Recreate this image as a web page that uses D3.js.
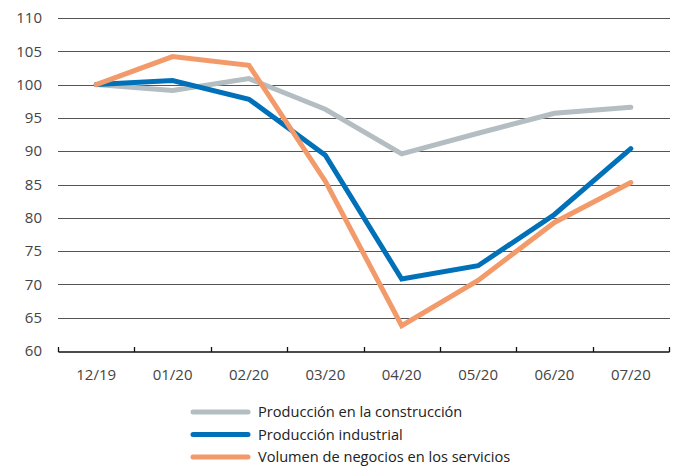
<!DOCTYPE html>
<html lang="es">
<head>
<meta charset="UTF-8">
<title>Producción e índices</title>
<script src="https://d3js.org/d3.v7.min.js"></script>
<style>
  body { margin: 0; background: #fff; }
  svg { font-family: "Open Sans", "Noto Sans", sans-serif; }
</style>
</head>
<body>
<svg id="chart"></svg>
<script>
const width = 680;
const height = 468;

const months = ["12/19", "01/20", "02/20", "03/20", "04/20", "05/20", "06/20", "07/20"];
const yTicks = [60, 65, 70, 75, 80, 85, 90, 95, 100, 105, 110];

const construccion = [100, 99.1, 100.9, 96.3, 89.6, 92.7, 95.7, 96.6];
const industrial   = [100, 100.6, 97.8, 89.4, 70.8, 72.8, 80.5, 90.4];
const servicios    = [100, 104.2, 102.9, 85.5, 63.8, 70.6, 79.3, 85.3];

const seriesNames = ["Producción en la construcción", "Producción industrial", "Volumen de negocios en los servicios"];
const seriesColors = ["#b4bdc1", "#0070b8", "#f39a6b"];
const series = [construccion, industrial, servicios];

const margin = {top: 18, right: 10, bottom: 117, left: 58};

const svg = d3.select("#chart")
    .attr("width", width)
    .attr("height", height);

const x = d3.scaleBand()
    .domain(months)
    .range([margin.left, 669]);

const y = d3.scaleLinear()
    .domain([60, 110])
    .range([351, margin.top]);

// horizontal gridlines
svg.append("g")
    .selectAll("line")
    .data(yTicks.filter(d => d > 60))
    .join("line")
    .attr("x1", margin.left)
    .attr("x2", 670)
    .attr("y1", d => Math.round(y(d)) + 0.5)
    .attr("y2", d => Math.round(y(d)) + 0.5)
    .attr("stroke", "#555")
    .attr("stroke-width", 1.2);

// y labels
svg.append("g")
    .selectAll("text")
    .data(yTicks)
    .join("text")
    .attr("x", 42)
    .attr("y", d => y(d))
    .attr("dy", "0.35em")
    .attr("text-anchor", "end")
    .attr("font-size", 15)
    .attr("fill", "#444")
    .text(d => d);

// x axis
const xAxis = svg.append("g")
    .attr("transform", `translate(0,${Math.round(y(60)) + 0.5})`)
    .call(d3.axisBottom(x).tickSize(0).tickSizeOuter(0));
xAxis.select(".domain").attr("stroke", "#111").attr("stroke-width", 1.3);
xAxis.selectAll("text")
    .attr("font-size", 15)
    .attr("fill", "#444")
    .attr("font-family", "Open Sans, Noto Sans, sans-serif")
    .attr("dy", "0")
    .attr("y", 28);

// tick marks at band boundaries
const bounds = months.map(m => x(m)).concat([x(months[months.length - 1]) + x.bandwidth()]);
svg.append("g")
    .selectAll("line")
    .data(bounds)
    .join("line")
    .attr("x1", d => Math.round(d) + 0.5)
    .attr("x2", d => Math.round(d) + 0.5)
    .attr("y1", Math.round(y(60)) - 4)
    .attr("y2", Math.round(y(60)) + 1)
    .attr("stroke", "#111")
    .attr("stroke-width", 1.3);

// lines
const line = d3.line()
    .x((d, i) => x(months[i]) + x.bandwidth() / 2)
    .y(d => y(d));

svg.append("g")
    .selectAll("path")
    .data(series)
    .join("path")
    .attr("fill", "none")
    .attr("stroke", (d, i) => seriesColors[i])
    .attr("stroke-width", 5)
    .attr("stroke-linejoin", "miter")
    .attr("stroke-linecap", "round")
    .attr("d", d => line(d));

// legend
const legend = svg.append("g")
    .selectAll("g")
    .data(seriesNames)
    .join("g")
    .attr("transform", (d, i) => `translate(193,${412 + i * 22.5})`);

legend.append("line")
    .attr("x1", 0)
    .attr("x2", 55)
    .attr("stroke", (d, i) => seriesColors[i])
    .attr("stroke-width", 5)
    .attr("stroke-linecap", "round");

legend.append("text")
    .attr("x", 65)
    .attr("dy", "0.35em")
    .attr("font-size", 14.6)
    .attr("fill", "#222")
    .text(d => d);
</script>
</body>
</html>
